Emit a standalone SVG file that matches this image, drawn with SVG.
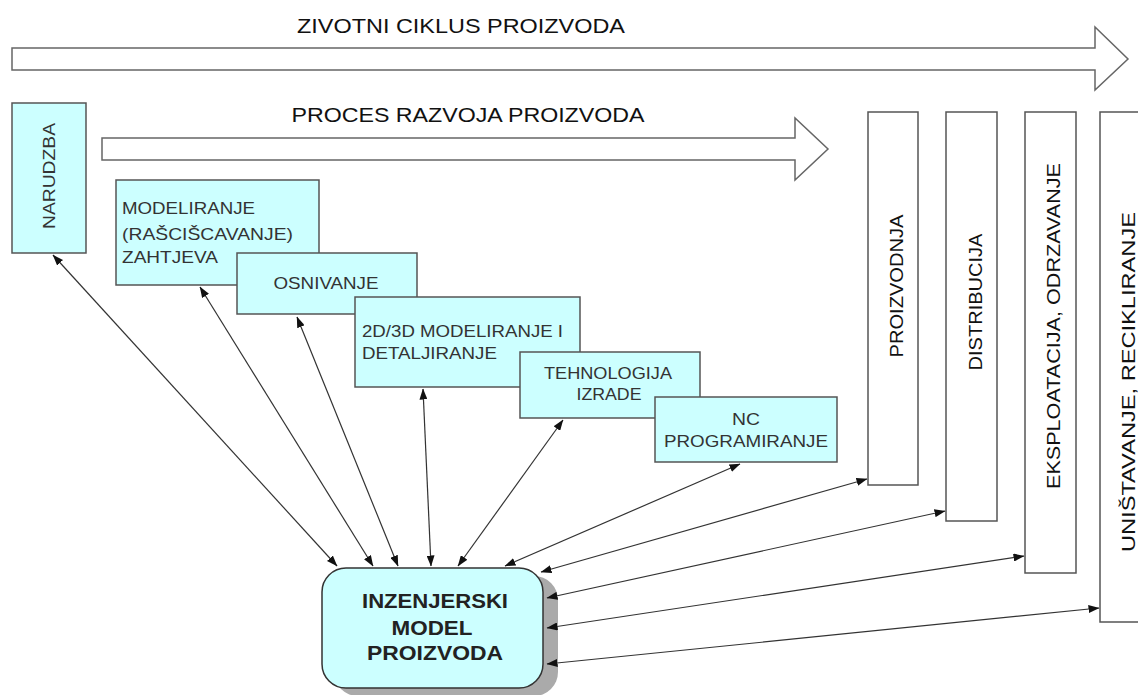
<svg xmlns="http://www.w3.org/2000/svg" width="1138" height="695" viewBox="0 0 1138 695">
<defs>
<style>
.bg{fill:#ffffff}
.big{fill:#ffffff;stroke:#666;stroke-width:1.5}
.cy{fill:#ccffff;stroke:#555;stroke-width:1.5}
.wh{fill:#ffffff;stroke:#555;stroke-width:1.5}
.t{font-family:"Liberation Sans",Arial,sans-serif;font-size:17px;fill:#333}
.tt{font-family:"Liberation Sans",Arial,sans-serif;font-size:21px;fill:#111}
.tr{font-family:"Liberation Sans",Arial,sans-serif;font-size:19px;fill:#111}
.tb{font-family:"Liberation Sans",Arial,sans-serif;font-size:21px;font-weight:bold;fill:#222}
.c{stroke:#333;stroke-width:1.2;fill:none;marker-start:url(#ah);marker-end:url(#ah)}
</style>
<marker id="ah" viewBox="0 0 11 8" refX="10.5" refY="4" markerWidth="11" markerHeight="8" markerUnits="userSpaceOnUse" orient="auto-start-reverse">
<path d="M0,0 L11,4 L0,8 z" fill="#111"/>
</marker>
</defs>
<rect class="bg" x="0" y="0" width="1138" height="695"/>

<g id="life-cycle-arrow">
<polygon class="big" points="12,48 1095,48 1095,27 1128,59 1095,90 1095,70 12,70"/>
<text class="tt" x="461" y="33" text-anchor="middle" textLength="328" lengthAdjust="spacingAndGlyphs">ZIVOTNI CIKLUS PROIZVODA</text>
</g>

<g id="development-arrow">
<polygon class="big" points="102,138 795,138 795,118 828,149 795,180 795,160 102,160"/>
<text class="tt" x="468" y="122" text-anchor="middle" textLength="353" lengthAdjust="spacingAndGlyphs">PROCES RAZVOJA PROIZVODA</text>
</g>

<g id="narudzba">
<rect class="cy" x="12" y="103" width="74" height="150"/>
<text class="t" transform="translate(55,176) rotate(-90)" text-anchor="middle" textLength="106" lengthAdjust="spacingAndGlyphs">NARUDZBA</text>
</g>

<g id="modeliranje">
<rect class="cy" x="116" y="180" width="203" height="105"/>
<text class="t" x="122" y="214" textLength="133" lengthAdjust="spacingAndGlyphs">MODELIRANJE</text>
<text class="t" x="122" y="240" textLength="171" lengthAdjust="spacingAndGlyphs">(RAŠCIŠCAVANJE)</text>
<text class="t" x="122" y="263" textLength="96" lengthAdjust="spacingAndGlyphs">ZAHTJEVA</text>
</g>

<g id="osnivanje">
<rect class="cy" x="237" y="253" width="180" height="61"/>
<text class="t" x="326" y="289" text-anchor="middle" textLength="105" lengthAdjust="spacingAndGlyphs">OSNIVANJE</text>
</g>

<g id="modeliranje-2d3d">
<rect class="cy" x="355" y="297" width="225" height="90"/>
<text class="t" x="362" y="337" textLength="201" lengthAdjust="spacingAndGlyphs">2D/3D MODELIRANJE I</text>
<text class="t" x="362" y="359" textLength="135" lengthAdjust="spacingAndGlyphs">DETALJIRANJE</text>
</g>

<g id="tehnologija">
<rect class="cy" x="520" y="352" width="180" height="66"/>
<text class="t" x="608" y="379" text-anchor="middle" textLength="128" lengthAdjust="spacingAndGlyphs">TEHNOLOGIJA</text>
<text class="t" x="609" y="400" text-anchor="middle" textLength="65" lengthAdjust="spacingAndGlyphs">IZRADE</text>
</g>

<g id="nc">
<rect class="cy" x="655" y="397" width="182" height="65"/>
<text class="t" x="746" y="425" text-anchor="middle" textLength="28" lengthAdjust="spacingAndGlyphs">NC</text>
<text class="t" x="746" y="447" text-anchor="middle" textLength="164" lengthAdjust="spacingAndGlyphs">PROGRAMIRANJE</text>
</g>

<g id="proizvodnja">
<rect class="wh" x="868" y="112" width="50" height="373"/>
<text class="tr" transform="translate(903,286) rotate(-90)" text-anchor="middle" textLength="143" lengthAdjust="spacingAndGlyphs">PROIZVODNJA</text>
</g>

<g id="distribucija">
<rect class="wh" x="946" y="112" width="51" height="409"/>
<text class="tr" transform="translate(982,302) rotate(-90)" text-anchor="middle" textLength="137" lengthAdjust="spacingAndGlyphs">DISTRIBUCIJA</text>
</g>

<g id="eksploatacija">
<rect class="wh" x="1025" y="112" width="51" height="461"/>
<text class="tr" transform="translate(1060,326) rotate(-90)" text-anchor="middle" textLength="326" lengthAdjust="spacingAndGlyphs">EKSPLOATACIJA, ODRZAVANJE</text>
</g>

<g id="unistavanje">
<rect class="wh" x="1100" y="112" width="50" height="510"/>
<text class="tr" transform="translate(1135,382) rotate(-90)" text-anchor="middle" textLength="340" lengthAdjust="spacingAndGlyphs">UNIŠTAVANJE, RECIKLIRANJE</text>
</g>

<g id="inzenjerski-model">
<rect x="334" y="576" width="224" height="120" rx="24" fill="#aaaaaa"/>
<rect x="322" y="568" width="221" height="120" rx="24" fill="#ccffff" stroke="#333" stroke-width="1.5"/>
<text class="tb" x="435" y="608" text-anchor="middle" textLength="146" lengthAdjust="spacingAndGlyphs">INZENJERSKI</text>
<text class="tb" x="432" y="635" text-anchor="middle" textLength="81" lengthAdjust="spacingAndGlyphs">MODEL</text>
<text class="tb" x="435" y="660" text-anchor="middle" textLength="136" lengthAdjust="spacingAndGlyphs">PROIZVODA</text>
</g>

<g id="connectors">
<line class="c" x1="337" y1="566" x2="53" y2="255"/>
<line class="c" x1="373" y1="566" x2="200" y2="287"/>
<line class="c" x1="398" y1="566" x2="297" y2="317"/>
<line class="c" x1="431" y1="566" x2="423" y2="389"/>
<line class="c" x1="458" y1="566" x2="563" y2="420"/>
<line class="c" x1="505" y1="566" x2="740" y2="464"/>
<line class="c" x1="541" y1="572" x2="867" y2="479"/>
<line class="c" x1="547" y1="598" x2="945" y2="511"/>
<line class="c" x1="547" y1="628" x2="1024" y2="556"/>
<line class="c" x1="547" y1="664" x2="1099" y2="608"/>
</g>
</svg>
